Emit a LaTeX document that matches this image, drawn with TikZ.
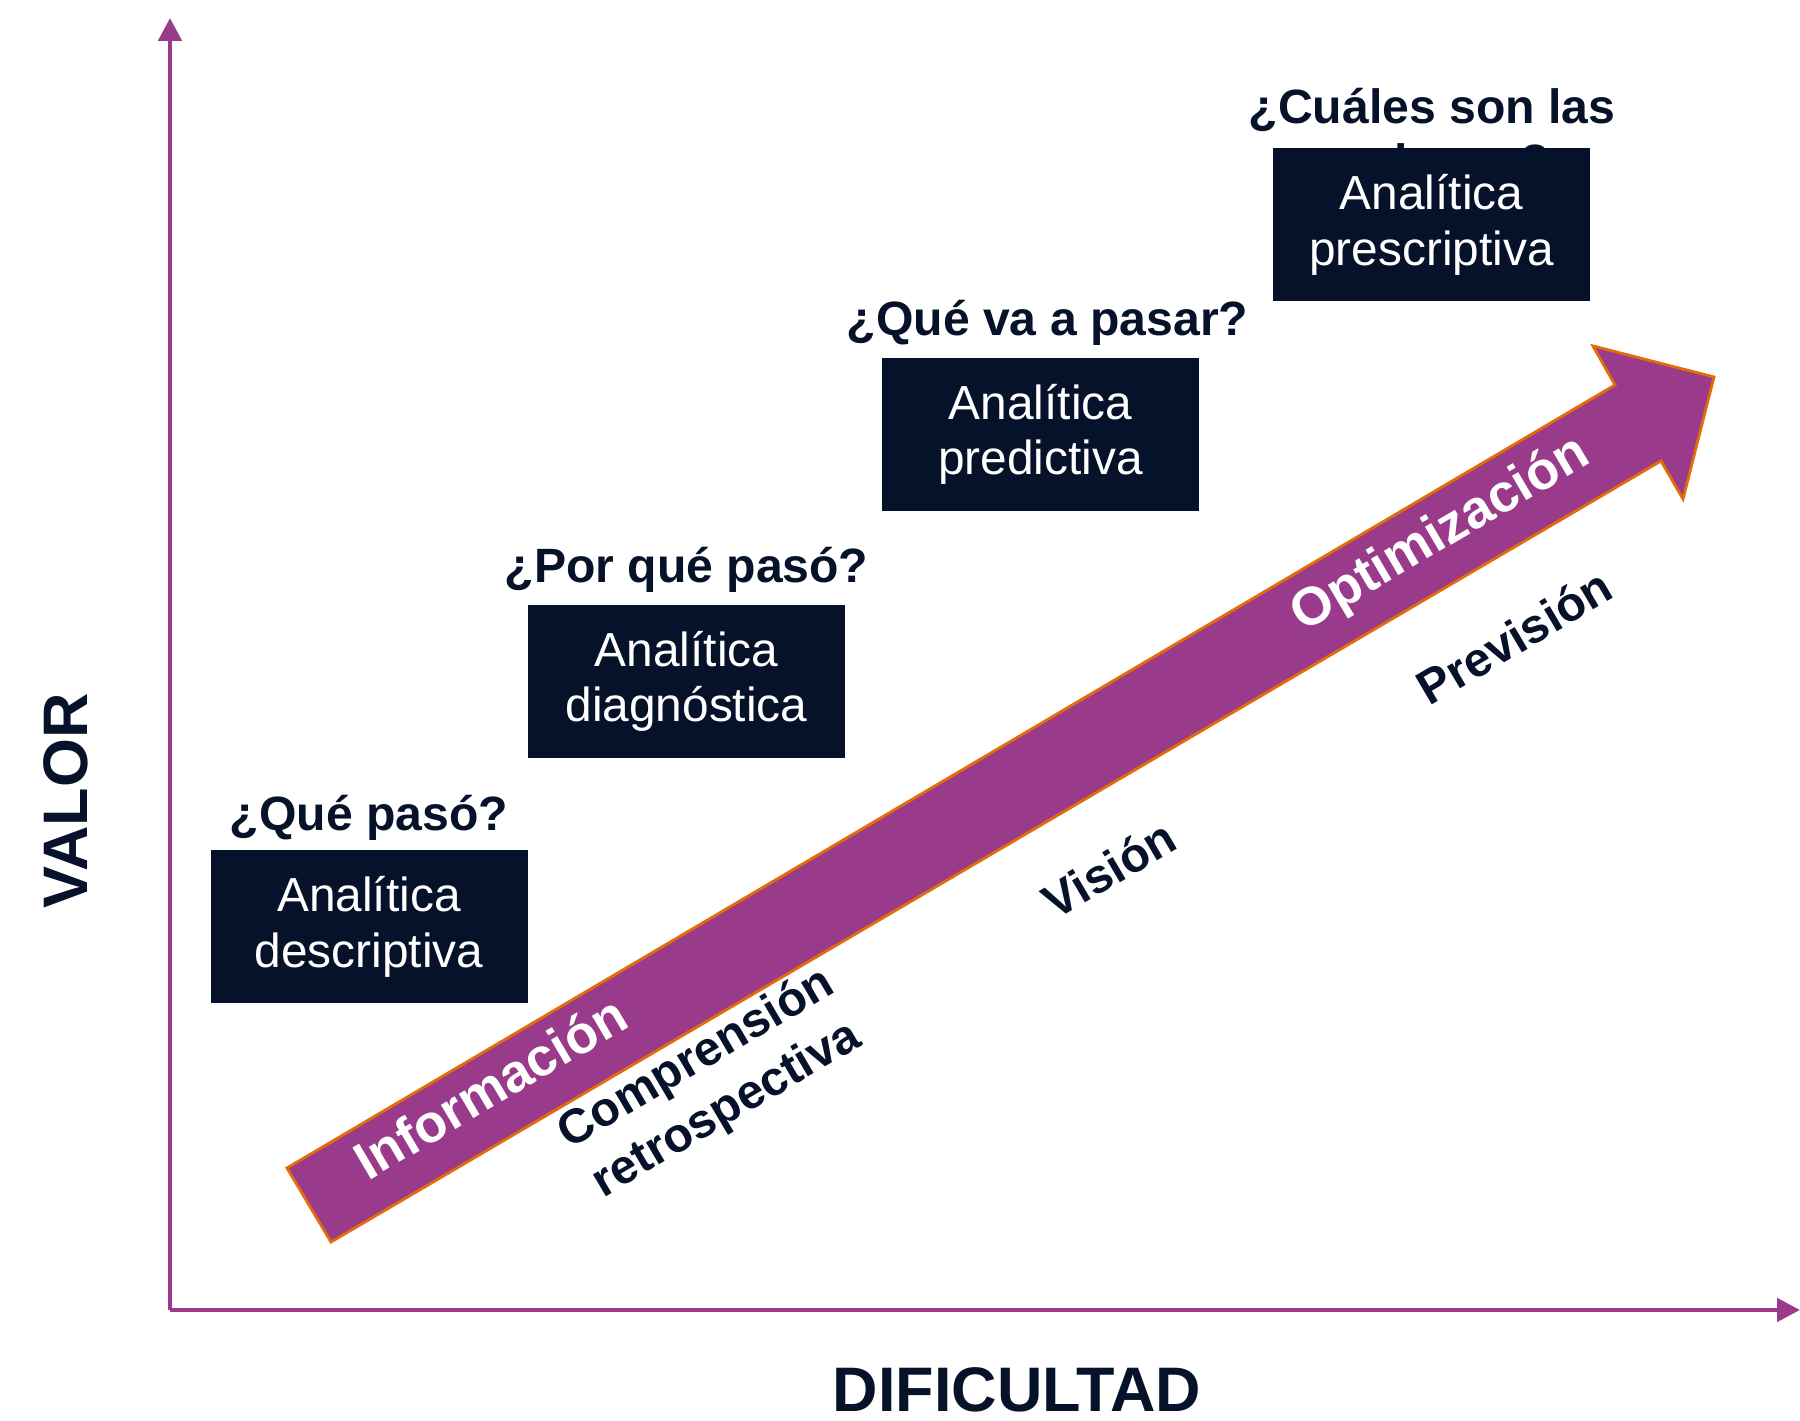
\documentclass[tikz,border=0pt]{standalone}
\usepackage{fontspec}
\setmainfont{Liberation Sans}
\usetikzlibrary{arrows.meta,positioning}
\definecolor{marino}{HTML}{06112A}
\definecolor{violeta}{HTML}{993A8B}
\definecolor{naranja}{HTML}{E26B0A}
\tikzset{
  caja/.style={fill=marino, text=white, minimum width=3.17cm, minimum height=1.53cm,
    inner sep=0pt, align=center, font=\fontsize{13.6}{15.8}\selectfont},
  pregunta/.style={text=marino, inner sep=0pt, align=center,
    font=\fontsize{13.7}{15.8}\selectfont\bfseries},
  etiqueta/.style={text=marino, inner sep=0pt, align=center, rotate=30.5,
    font=\fontsize{13.7}{16.8}\selectfont\bfseries},
  enflecha/.style={etiqueta, text=white, font=\fontsize{15.2}{18}\selectfont\bfseries},
  titulo/.style={text=marino, inner sep=0pt, anchor=base,
    font=\fontsize{17.9}{20}\selectfont\bfseries},
  eje/.style={violeta, line width=1.4pt, -{Triangle[length=0.23cm,width=0.23cm]}}
}

\begin{document}
\begin{tikzpicture}
\useasboundingbox (0,0) rectangle (18,14.21);
% ejes
\coordinate (origen) at (1.70,1.11);
\coordinate (ymax) at (1.70,14.03);
\coordinate (xmax) at (18.0,1.11);
\draw[eje] (origen) -- (ymax);
\draw[eje] (origen) -- (xmax);
\node[titulo, rotate=90] (valor) at (0.88,6.20) {VALOR};
\node[titulo] (dificultad) at (10.17,0.09) {DIFICULTAD};

% flecha grande
\draw[fill=violeta, draw=naranja, line width=0.8pt]
  (2.87,2.53) -- (16.15,10.36) -- (15.93,10.75) -- (17.14,10.44)
  -- (16.83,9.22) -- (16.61,9.60) -- (3.31,1.79) -- cycle;
\node[enflecha] (info) at (4.90,3.34) {Información};
\node[enflecha] (optim) at (14.41,8.86) {Optimización};
\node[etiqueta] (compr) at (7.12,3.36) {Comprensión\\retrospectiva};
\node[etiqueta] (vision) at (11.09,5.52) {Visión};
\node[etiqueta] (prevision) at (15.14,7.84) {Previsión};

% cajas
\node[caja] (descr) at (3.69,4.94) {Analítica\\descriptiva};
\node[caja] (diagn) at (6.865,7.395) {Analítica\\diagnóstica};
\node[caja] (predic) at (10.405,9.865) {Analítica\\predictiva};
\node[pregunta, anchor=base] (q4) at (14.32,12.42) {¿Cuáles son las\\acciones?};
\node[caja] (prescr) at (14.315,11.96) {Analítica\\prescriptiva};

\node[pregunta, above=0.19cm of descr, anchor=base] (q1) {¿Qué pasó?};
\node[pregunta, above=0.22cm of diagn, anchor=base] (q2) {¿Por qué pasó?};
\node[pregunta, above=0.22cm of predic, anchor=base, xshift=0.07cm] (q3) {¿Qué va a pasar?};
\end{tikzpicture}
\end{document}
